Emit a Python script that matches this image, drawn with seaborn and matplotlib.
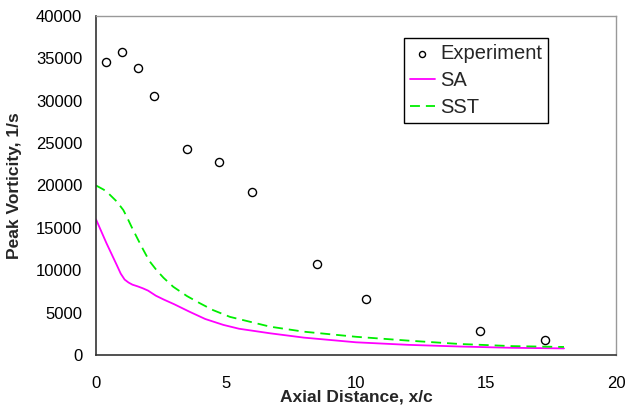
import matplotlib
matplotlib.use("Agg")
import matplotlib.pyplot as plt
import numpy as np
import pandas as pd
import seaborn as sns

# experimental peak vorticity
exp_x = [0.38, 1.0, 1.62, 2.24, 3.5, 4.74, 6.0, 8.5, 10.38, 14.76, 17.26]
exp_y = [34600, 35700, 33900, 30500, 24300, 22800, 19200, 10700, 6600, 2800, 1800]

# SA model
sa_x = [0.0, 0.2, 0.4, 0.6, 0.8, 0.95, 1.1, 1.25, 1.4, 1.6, 1.8, 2.0, 2.3, 2.6, 3.0, 3.6, 4.2, 4.9,
        5.5, 6.7, 8.0, 10.0, 12.0, 14.0, 16.0, 18.0]
sa_y = [16000, 14600, 13200, 11900, 10600, 9600, 8900, 8550, 8300, 8100, 7870, 7600, 7000, 6550,
        6000, 5100, 4250, 3550, 3100, 2560, 2050, 1500, 1200, 1000, 850, 780]

# SST model
sst_x = [0.0, 0.3, 0.5, 0.8, 1.05, 1.2, 1.37, 1.6, 1.82, 2.05, 2.33, 2.6, 2.97, 3.5, 4.0, 4.5,
         5.15, 6.7, 8.0, 10.0, 12.0, 14.0, 16.0, 18.0]
sst_y = [20000, 19500, 19000, 18100, 17100, 16200, 15100, 13700, 12400, 11100, 10000, 9100,
         8050, 6950, 6100, 5300, 4500, 3340, 2750, 2150, 1700, 1300, 1050, 950]

sns.set_style("white")
plt.rcParams["font.family"] = ["Liberation Sans", "DejaVu Sans"]

fig = plt.figure(figsize=(6.26, 4.09), dpi=100)
ax = fig.add_axes([0.1534, 0.132, 0.8306, 0.829])

sns.scatterplot(x=exp_x, y=exp_y, ax=ax, marker="o", s=34, facecolor="white",
                edgecolor="black", linewidth=1.0, label="Experiment", zorder=3)
sns.lineplot(x=sa_x, y=sa_y, ax=ax, color="#ff00ff", linewidth=1.3, label="SA")
sns.lineplot(x=sst_x, y=sst_y, ax=ax, color="#00ee00", linewidth=1.3, label="SST",
             linestyle=(0, (5.5, 3.3)))

ax.set_xlim(0, 20)
ax.set_ylim(0, 40000)
ax.set_xticks([0, 5, 10, 15, 20])
ax.set_yticks(range(0, 40001, 5000))
ax.tick_params(axis="both", direction="out", length=5, width=1, colors="#333333",
               labelcolor="black", labelsize=12, pad=5)
ax.tick_params(axis="x", pad=10)
ax.set_xlabel("Axial Distance, x/c", fontsize=12.5, fontweight="bold")
ax.set_ylabel("Peak Vorticity, 1/s", fontsize=12.5, fontweight="bold")
ax.xaxis.set_label_coords(0.5, -0.103)
ax.yaxis.set_label_coords(-0.142, 0.5)

for side in ["left", "bottom"]:
    ax.spines[side].set_color("#333333")
    ax.spines[side].set_linewidth(1.2)
for side in ["top", "right"]:
    ax.spines[side].set_color("#999999")
    ax.spines[side].set_linewidth(1.0)

leg = ax.legend(loc="upper left", bbox_to_anchor=(0.592, 0.935), fontsize=14.5,
                frameon=True, fancybox=False, framealpha=1, edgecolor="black",
                borderpad=0.3, labelspacing=0.4, handlelength=1.25, handletextpad=0.25,
                borderaxespad=0, markerscale=0.75)
leg.get_frame().set_linewidth(1.0)

fig.savefig("out.png", dpi=100)
